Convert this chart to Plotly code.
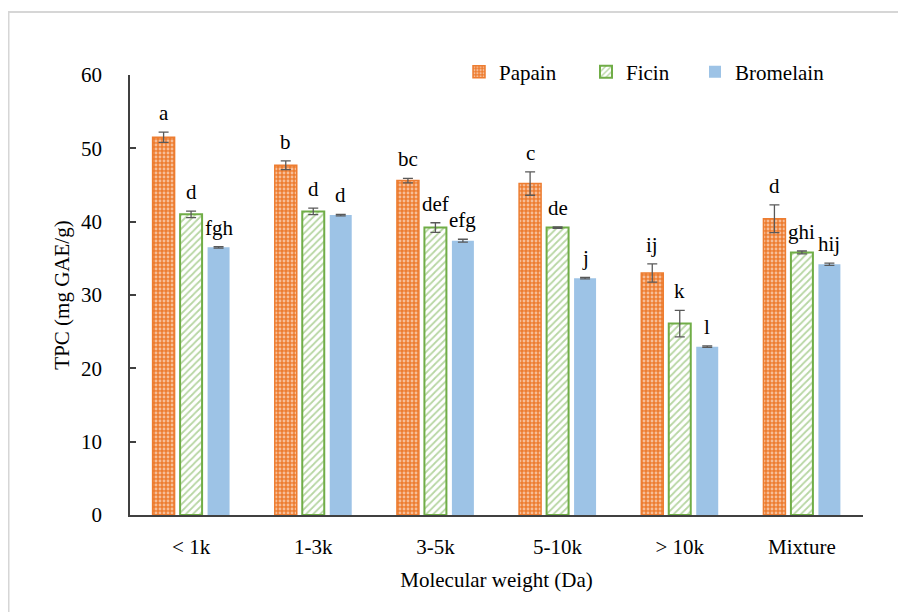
import plotly.graph_objects as go

categories = ["< 1k", "1-3k", "3-5k", "5-10k", "> 10k", "Mixture"]
series_names = ["Papain", "Ficin", "Bromelain"]

papain = [51.5, 47.7, 45.6, 45.2, 33.0, 40.4]
papain_err = [0.7, 0.6, 0.3, 1.6, 1.25, 1.9]
papain_lbl = ["a", "b", "bc", "c", "ij", "d"]

ficin = [41.0, 41.4, 39.2, 39.2, 26.1, 35.8]
ficin_err = [0.45, 0.45, 0.65, 0.1, 1.8, 0.2]
ficin_lbl = ["d", "d", "def", "de", "k", "ghi"]

bromelain = [36.5, 40.9, 37.4, 32.3, 22.95, 34.2]
bromelain_err = [0.1, 0.1, 0.2, 0.1, 0.1, 0.15]
bromelain_lbl = ["fgh", "d", "efg", "j", "l", "hij"]

FONT = "Liberation Serif"
W, H = 906, 612
ML, MR, MT, MB = 122, 51, 67, 105
BARGAP = 0.325
BARGROUPGAP = 0.2

ORANGE = "#ED7D31"
GREEN = "#70AD47"
BLUE = "#9DC3E6"
ERRC = "#595959"
AXC = "#404040"

plot_w = W - ML - MR
plot_h = H - MT - MB

fig = go.Figure()
fig.add_trace(go.Bar(
    name=series_names[0], x=categories, y=papain, legend="legend",
    error_y=dict(type="data", array=papain_err, color=ERRC, thickness=1.3, width=5),
    marker=dict(color=ORANGE, line=dict(color=ORANGE, width=1.5),
                pattern=dict(shape=".", fgcolor="white", bgcolor=ORANGE, size=4, solidity=0.4)),
))
fig.add_trace(go.Bar(
    name=series_names[1], x=categories, y=ficin, legend="legend2",
    error_y=dict(type="data", array=ficin_err, color=ERRC, thickness=1.3, width=5),
    marker=dict(color="white", line=dict(color=GREEN, width=2),
                pattern=dict(shape="/", fgcolor=GREEN, bgcolor="white", size=5, solidity=0.35)),
))
fig.add_trace(go.Bar(
    name=series_names[2], x=categories, y=bromelain, legend="legend3",
    error_y=dict(type="data", array=bromelain_err, color=ERRC, thickness=1.3, width=5),
    marker=dict(color=BLUE, line=dict(width=0)),
))

slot = plot_w / len(categories) * (1 - BARGAP) / 3
annotations = []
for si, (vals, errs, lbls) in enumerate([(papain, papain_err, papain_lbl),
                                         (ficin, ficin_err, ficin_lbl),
                                         (bromelain, bromelain_err, bromelain_lbl)]):
    for c, v, e, t in zip(categories, vals, errs, lbls):
        annotations.append(dict(
            x=c, y=v + e, text=t, showarrow=False, xref="x", yref="y",
            xanchor="center", yanchor="bottom", xshift=(si - 1) * slot, yshift=5,
            font=dict(family=FONT, size=21, color="black"),
        ))

def legend_at(px):
    return dict(orientation="h", x=(px - ML) / plot_w, y=1 + (MT - 64) / plot_h,
                xanchor="left", yanchor="middle",
                font=dict(family=FONT, size=21, color="black"),
                bgcolor="rgba(0,0,0,0)")

fig.update_layout(
    width=W, height=H,
    margin=dict(l=ML, r=MR, t=MT, b=MB),
    paper_bgcolor="white", plot_bgcolor="white",
    barmode="group", bargap=BARGAP, bargroupgap=BARGROUPGAP,
    font=dict(family=FONT, size=21, color="black"),
    showlegend=True,
    legend=legend_at(451),
    legend2=legend_at(578),
    legend3=legend_at(687),
    annotations=annotations,
    shapes=[dict(type="rect", xref="paper", yref="paper",
                 x0=(0.5 - ML) / plot_w, x1=1.3, y0=-0.4, y1=1 + (MT - 4) / plot_h,
                 line=dict(color="#D6D6D6", width=2), fillcolor="rgba(0,0,0,0)", layer="below")],
)
fig.update_xaxes(
    showline=True, linecolor=AXC, linewidth=1.5, ticks="", showgrid=False,
    title=dict(text="Molecular weight (Da)", standoff=14, font=dict(family=FONT, size=21)),
    tickfont=dict(family=FONT, size=21), ticklabelstandoff=12,
)
fig.update_yaxes(
    range=[0, 60], dtick=10, showline=True, linecolor=AXC, linewidth=1.5,
    ticks="inside", ticklen=6, tickcolor=AXC, tickwidth=1.5, showgrid=False, zeroline=False,
    title=dict(text="TPC (mg GAE/g)", standoff=6, font=dict(family=FONT, size=21)),
    tickfont=dict(family=FONT, size=21), ticklabelstandoff=22,
)

fig.write_html("out.html")
